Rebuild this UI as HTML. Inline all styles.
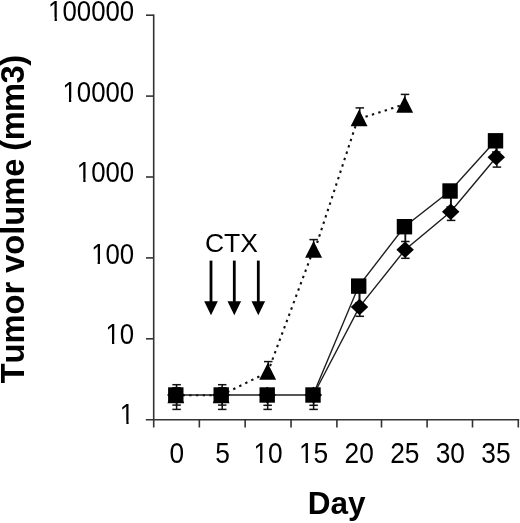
<!DOCTYPE html>
<html><head><meta charset="utf-8"><style>
html,body{margin:0;padding:0;background:#fff;width:520px;height:523px;overflow:hidden}
svg{display:block;will-change:transform}
text{font-kerning:none;font-feature-settings:"kern" 0;}
.ax{stroke:#333;stroke-width:1.6;fill:none}
.sl{stroke:#1e1e1e;stroke-width:1.4;fill:none}
.dl{stroke:#111;stroke-width:2.1;fill:none;stroke-dasharray:2.4 4.3}
.eb{stroke:#111;stroke-width:1.5;fill:none}
.t{font-family:"Liberation Sans",sans-serif;font-size:26px;fill:#000}
.b{font-family:"Liberation Sans",sans-serif;font-weight:bold;fill:#000}
</style></head><body>
<svg width="520" height="523" viewBox="0 0 520 523">
<line x1="153.7" y1="14.40" x2="153.7" y2="427.5" class="ax"/>
<line x1="145.8" y1="419.7" x2="519.20" y2="419.7" class="ax"/>
<line x1="146" y1="338.80" x2="153.7" y2="338.80" class="ax"/>
<line x1="146" y1="257.90" x2="153.7" y2="257.90" class="ax"/>
<line x1="146" y1="177.00" x2="153.7" y2="177.00" class="ax"/>
<line x1="146" y1="96.10" x2="153.7" y2="96.10" class="ax"/>
<line x1="146" y1="15.20" x2="153.7" y2="15.20" class="ax"/>
<line x1="199.35" y1="419.7" x2="199.35" y2="427.5" class="ax"/>
<line x1="245.15" y1="419.7" x2="245.15" y2="427.5" class="ax"/>
<line x1="291.04" y1="419.7" x2="291.04" y2="427.5" class="ax"/>
<line x1="336.90" y1="419.7" x2="336.90" y2="427.5" class="ax"/>
<line x1="381.50" y1="419.7" x2="381.50" y2="427.5" class="ax"/>
<line x1="427.10" y1="419.7" x2="427.10" y2="427.5" class="ax"/>
<line x1="472.50" y1="419.7" x2="472.50" y2="427.5" class="ax"/>
<line x1="518.30" y1="419.7" x2="518.30" y2="427.5" class="ax"/>
<g transform="matrix(1 0 0 1.14 0 -58.002)"><text x="134.20" y="423.18" text-anchor="end" class="t" style="font-size:25.8px">1</text><rect x="121.02" y="419.95" width="5.32" height="3.93" fill="#fff"/><rect x="128.62" y="419.95" width="5.12" height="3.93" fill="#fff"/></g>
<g transform="matrix(1 0 0 1.14 0 -46.732)"><text x="134.20" y="342.68" text-anchor="end" class="t" style="font-size:25.8px">10</text><rect x="106.67" y="339.45" width="5.32" height="3.93" fill="#fff"/><rect x="114.27" y="339.45" width="5.12" height="3.93" fill="#fff"/></g>
<g transform="matrix(1 0 0 1.14 0 -35.525)"><text x="134.20" y="262.63" text-anchor="end" class="t" style="font-size:25.8px">100</text><rect x="92.32" y="259.40" width="5.32" height="3.93" fill="#fff"/><rect x="99.92" y="259.40" width="5.12" height="3.93" fill="#fff"/></g>
<g transform="matrix(1 0 0 1.14 0 -24.108)"><text x="134.20" y="181.08" text-anchor="end" class="t" style="font-size:25.8px">1000</text><rect x="77.97" y="177.85" width="5.32" height="3.93" fill="#fff"/><rect x="85.57" y="177.85" width="5.12" height="3.93" fill="#fff"/></g>
<g transform="matrix(1 0 0 1.14 0 -12.852)"><text x="134.20" y="100.68" text-anchor="end" class="t" style="font-size:25.8px">10000</text><rect x="63.62" y="97.45" width="5.32" height="3.93" fill="#fff"/><rect x="71.22" y="97.45" width="5.12" height="3.93" fill="#fff"/></g>
<g transform="matrix(1 0 0 1.14 0 -1.505)"><text x="134.20" y="19.63" text-anchor="end" class="t" style="font-size:25.8px">100000</text><rect x="49.27" y="16.40" width="5.32" height="3.93" fill="#fff"/><rect x="56.88" y="16.40" width="5.12" height="3.93" fill="#fff"/></g>
<g transform="matrix(1 0 0 1.1 0 -45.355)"><text x="176.89" y="462.60" text-anchor="middle" class="t" style="font-size:26.3px">0</text></g>
<g transform="matrix(1 0 0 1.1 0 -45.355)"><text x="222.46" y="462.60" text-anchor="middle" class="t" style="font-size:26.3px">5</text></g>
<g transform="matrix(1 0 0 1.1 0 -45.355)"><text x="268.04" y="462.60" text-anchor="middle" class="t" style="font-size:26.3px">10</text><rect x="254.61" y="459.34" width="5.41" height="3.96" fill="#fff"/><rect x="262.35" y="459.34" width="5.20" height="3.96" fill="#fff"/></g>
<g transform="matrix(1 0 0 1.1 0 -45.355)"><text x="313.61" y="462.60" text-anchor="middle" class="t" style="font-size:26.3px">15</text><rect x="300.19" y="459.34" width="5.41" height="3.96" fill="#fff"/><rect x="307.92" y="459.34" width="5.20" height="3.96" fill="#fff"/></g>
<g transform="matrix(1 0 0 1.1 0 -45.355)"><text x="359.19" y="462.60" text-anchor="middle" class="t" style="font-size:26.3px">20</text></g>
<g transform="matrix(1 0 0 1.1 0 -45.355)"><text x="404.76" y="462.60" text-anchor="middle" class="t" style="font-size:26.3px">25</text></g>
<g transform="matrix(1 0 0 1.1 0 -45.355)"><text x="450.34" y="462.60" text-anchor="middle" class="t" style="font-size:26.3px">30</text></g>
<g transform="matrix(1 0 0 1.1 0 -45.355)"><text x="495.91" y="462.60" text-anchor="middle" class="t" style="font-size:26.3px">35</text></g>
<text x="336.6" y="514" text-anchor="middle" class="b" style="font-size:31.5px">Day</text>
<text transform="translate(24,383.37) rotate(-90)" x="0" y="0" class="b" style="font-size:32.7px" textLength="224.9" lengthAdjust="spacing">Tumor volume</text>
<text transform="translate(24,150.63) rotate(-90)" x="0" y="0" class="b" style="font-size:32.7px" textLength="95.66" lengthAdjust="spacing">(mm3)</text>
<text x="231.4" y="251.7" text-anchor="middle" class="t" style="font-size:26.5px">CTX</text>
<line x1="211" y1="260.6" x2="211" y2="303" stroke="#000" stroke-width="2.8"/>
<path d="M204.2 301.3 L217.8 301.3 L211 315.3 Z" fill="#000"/>
<line x1="234.3" y1="260.6" x2="234.3" y2="303" stroke="#000" stroke-width="2.8"/>
<path d="M227.5 301.3 L241.10000000000002 301.3 L234.3 315.3 Z" fill="#000"/>
<line x1="258.3" y1="260.6" x2="258.3" y2="303" stroke="#000" stroke-width="2.8"/>
<path d="M251.5 301.3 L265.1 301.3 L258.3 315.3 Z" fill="#000"/>
<line x1="175.80" y1="395.20" x2="221.20" y2="395.20" class="dl"/>
<line x1="221.20" y1="395.20" x2="267.70" y2="372.30" class="dl"/>
<line x1="267.70" y1="372.30" x2="313.60" y2="249.30" class="dl"/>
<line x1="315.00" y1="249.30" x2="357.90" y2="118.70" class="dl"/>
<line x1="359.10" y1="118.70" x2="404.70" y2="104.30" class="dl"/>
<polyline points="313.40,395.00 359.50,306.90 405.10,249.70 450.70,211.80 496.30,157.30" class="sl"/>
<polyline points="175.80,395.00 221.20,395.00 267.20,395.00 313.00,395.00 358.70,286.10 404.45,226.70 450.05,191.00 495.50,140.80" class="sl"/>
<line x1="176.60" y1="388" x2="176.60" y2="400" class="eb"/><line x1="172.35" y1="388" x2="180.85" y2="388" class="eb"/><line x1="172.35" y1="400" x2="180.85" y2="400" class="eb"/>
<line x1="222.20" y1="388" x2="222.20" y2="400" class="eb"/><line x1="217.95" y1="388" x2="226.45" y2="388" class="eb"/><line x1="217.95" y1="400" x2="226.45" y2="400" class="eb"/>
<line x1="268.25" y1="361.6" x2="268.25" y2="375" class="eb"/><line x1="264.00" y1="361.6" x2="272.50" y2="361.6" class="eb"/><line x1="264.00" y1="375" x2="272.50" y2="375" class="eb"/>
<line x1="313.65" y1="239.6" x2="313.65" y2="255" class="eb"/><line x1="309.40" y1="239.6" x2="317.90" y2="239.6" class="eb"/><line x1="309.40" y1="255" x2="317.90" y2="255" class="eb"/>
<line x1="359.80" y1="107.9" x2="359.80" y2="120" class="eb"/><line x1="355.55" y1="107.9" x2="364.05" y2="107.9" class="eb"/><line x1="355.55" y1="120" x2="364.05" y2="120" class="eb"/>
<line x1="405.00" y1="94.4" x2="405.00" y2="108" class="eb"/><line x1="400.75" y1="94.4" x2="409.25" y2="94.4" class="eb"/><line x1="400.75" y1="108" x2="409.25" y2="108" class="eb"/>
<line x1="176.60" y1="388" x2="176.60" y2="405.1" class="eb"/><line x1="172.35" y1="388" x2="180.85" y2="388" class="eb"/><line x1="172.35" y1="405.1" x2="180.85" y2="405.1" class="eb"/>
<line x1="222.20" y1="388" x2="222.20" y2="405.1" class="eb"/><line x1="217.95" y1="388" x2="226.45" y2="388" class="eb"/><line x1="217.95" y1="405.1" x2="226.45" y2="405.1" class="eb"/>
<line x1="267.65" y1="390" x2="267.65" y2="405.3" class="eb"/><line x1="263.40" y1="390" x2="271.90" y2="390" class="eb"/><line x1="263.40" y1="405.3" x2="271.90" y2="405.3" class="eb"/>
<line x1="313.60" y1="390" x2="313.60" y2="405.3" class="eb"/><line x1="309.35" y1="390" x2="317.85" y2="390" class="eb"/><line x1="309.35" y1="405.3" x2="317.85" y2="405.3" class="eb"/>
<line x1="359.80" y1="290" x2="359.80" y2="316.3" class="eb"/><line x1="355.55" y1="290" x2="364.05" y2="290" class="eb"/><line x1="355.55" y1="316.3" x2="364.05" y2="316.3" class="eb"/>
<line x1="405.40" y1="230" x2="405.40" y2="258.3" class="eb"/><line x1="401.15" y1="230" x2="409.65" y2="230" class="eb"/><line x1="401.15" y1="258.3" x2="409.65" y2="258.3" class="eb"/>
<line x1="451.10" y1="195" x2="451.10" y2="220.4" class="eb"/><line x1="446.85" y1="195" x2="455.35" y2="195" class="eb"/><line x1="446.85" y1="220.4" x2="455.35" y2="220.4" class="eb"/>
<line x1="496.90" y1="144" x2="496.90" y2="167.1" class="eb"/><line x1="492.65" y1="144" x2="501.15" y2="144" class="eb"/><line x1="492.65" y1="167.1" x2="501.15" y2="167.1" class="eb"/>
<line x1="176.60" y1="384.7" x2="176.60" y2="409.4" class="eb"/><line x1="172.35" y1="384.7" x2="180.85" y2="384.7" class="eb"/><line x1="172.35" y1="409.4" x2="180.85" y2="409.4" class="eb"/>
<line x1="222.20" y1="384.7" x2="222.20" y2="409.4" class="eb"/><line x1="217.95" y1="384.7" x2="226.45" y2="384.7" class="eb"/><line x1="217.95" y1="409.4" x2="226.45" y2="409.4" class="eb"/>
<line x1="267.65" y1="390" x2="267.65" y2="409.4" class="eb"/><line x1="263.40" y1="390" x2="271.90" y2="390" class="eb"/><line x1="263.40" y1="409.4" x2="271.90" y2="409.4" class="eb"/>
<line x1="313.60" y1="390" x2="313.60" y2="409.4" class="eb"/><line x1="309.35" y1="390" x2="317.85" y2="390" class="eb"/><line x1="309.35" y1="409.4" x2="317.85" y2="409.4" class="eb"/>
<line x1="359.20" y1="280" x2="359.20" y2="303" class="eb"/><line x1="354.95" y1="280" x2="363.45" y2="280" class="eb"/><line x1="354.95" y1="303" x2="363.45" y2="303" class="eb"/>
<line x1="405.35" y1="222" x2="405.35" y2="241.5" class="eb"/><line x1="401.10" y1="222" x2="409.60" y2="222" class="eb"/><line x1="401.10" y1="241.5" x2="409.60" y2="241.5" class="eb"/>
<line x1="450.70" y1="186" x2="450.70" y2="207" class="eb"/><line x1="446.45" y1="186" x2="454.95" y2="186" class="eb"/><line x1="446.45" y1="207" x2="454.95" y2="207" class="eb"/>
<line x1="496.20" y1="136" x2="496.20" y2="152" class="eb"/><line x1="491.95" y1="136" x2="500.45" y2="136" class="eb"/><line x1="491.95" y1="152" x2="500.45" y2="152" class="eb"/>
<path d="M175.80 386.50 L184.25 403.30 L167.35 403.30 Z" fill="#000"/>
<path d="M221.20 386.50 L229.65 403.30 L212.75 403.30 Z" fill="#000"/>
<path d="M267.70 363.00 L276.15 379.80 L259.25 379.80 Z" fill="#000"/>
<path d="M313.60 240.90 L322.05 257.70 L305.15 257.70 Z" fill="#000"/>
<path d="M359.10 109.40 L367.55 126.20 L350.65 126.20 Z" fill="#000"/>
<path d="M404.70 95.90 L413.15 112.70 L396.25 112.70 Z" fill="#000"/>
<path d="M175.80 386.75 L184.55 395.00 L175.80 403.25 L167.05 395.00 Z" fill="#000"/>
<path d="M221.20 386.75 L229.95 395.00 L221.20 403.25 L212.45 395.00 Z" fill="#000"/>
<path d="M267.20 386.75 L275.95 395.00 L267.20 403.25 L258.45 395.00 Z" fill="#000"/>
<path d="M313.40 386.75 L322.15 395.00 L313.40 403.25 L304.65 395.00 Z" fill="#000"/>
<path d="M359.50 298.65 L368.25 306.90 L359.50 315.15 L350.75 306.90 Z" fill="#000"/>
<path d="M405.10 241.45 L413.85 249.70 L405.10 257.95 L396.35 249.70 Z" fill="#000"/>
<path d="M450.70 203.55 L459.45 211.80 L450.70 220.05 L441.95 211.80 Z" fill="#000"/>
<path d="M496.30 149.05 L505.05 157.30 L496.30 165.55 L487.55 157.30 Z" fill="#000"/>
<rect x="168.10" y="387.30" width="15.4" height="15.4" fill="#000"/>
<rect x="213.50" y="387.30" width="15.4" height="15.4" fill="#000"/>
<rect x="259.50" y="387.30" width="15.4" height="15.4" fill="#000"/>
<rect x="305.30" y="387.30" width="15.4" height="15.4" fill="#000"/>
<rect x="351.00" y="278.40" width="15.4" height="15.4" fill="#000"/>
<rect x="396.75" y="219.00" width="15.4" height="15.4" fill="#000"/>
<rect x="442.35" y="183.30" width="15.4" height="15.4" fill="#000"/>
<rect x="487.80" y="133.10" width="15.4" height="15.4" fill="#000"/>
</svg>
</body></html>
